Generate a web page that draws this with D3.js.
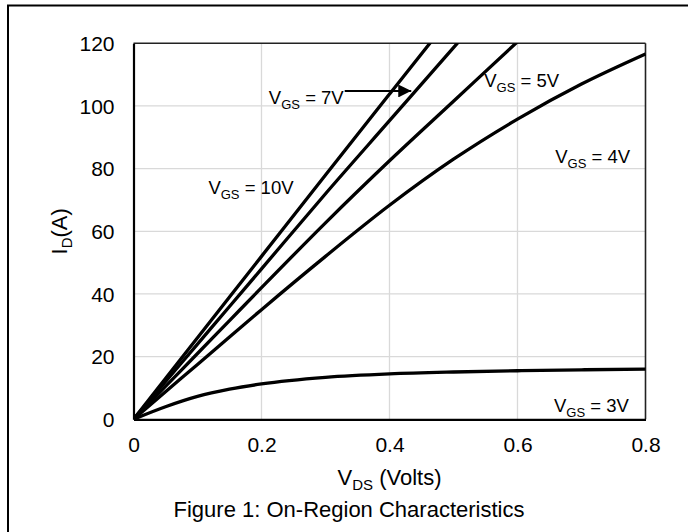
<!DOCTYPE html>
<html>
<head>
<meta charset="utf-8">
<script src="https://cdn.jsdelivr.net/npm/d3@7"></script>
<style>
  html, body { margin: 0; padding: 0; background: #fff; }
  svg { display: block; font-family: "Liberation Sans", Arial, sans-serif; }
</style>
</head>
<body>
<svg id="chart" width="698" height="532"></svg>
<script>
// ---- data ----
const vds = [0, 0.05, 0.1, 0.15, 0.2, 0.3, 0.4, 0.5, 0.6, 0.7, 0.8];
const id10 = [0, 13, 26, 39, 52, 78, 103.8, 129.5, 155, 181, 207];
const id7  = [0, 12, 24, 36, 48, 72, 95.3, 118.6, 142, 165, 188];
const id5  = [0, 10.5, 21, 31.5, 42, 62.7, 82.5, 101.5, 120.5, 139, 157];
const id4  = [0, 8.8, 17.5, 26.3, 35, 52, 68.3, 83, 95.8, 107, 116.6];
const id3  = [0, 4, 7.3, 9.6, 11.3, 13.4, 14.5, 15.1, 15.5, 15.8, 16.0];
const seriesNames = ["10V", "7V", "5V", "4V", "3V"];
const seriesValues = [id10, id7, id5, id4, id3];
const xTicks = [0, 0.2, 0.4, 0.6, 0.8];
const yTicks = [0, 20, 40, 60, 80, 100, 120];
const xTitle = ["V", "DS", " (Volts)"];
const yTitle = ["I", "D", "(A)"];
const caption = "Figure 1: On-Region Characteristics";
const curveLabels = [
  {name: "10V", x: 0.117, y: 71.9},
  {name: "7V",  x: 0.2115, y: 100.6},
  {name: "5V",  x: 0.548, y: 106},
  {name: "4V",  x: 0.659, y: 81.7},
  {name: "3V",  x: 0.657, y: 2.4}
];
const arrowFrom = [0.330, 104.8];
const arrowTo = [0.434, 104.8];

// ---- layout ----
const svg = d3.select("#chart");
const m = {left: 133.5, right: 645.5, top: 43.3, bottom: 419.3};
const x = d3.scaleLinear().domain([0, 0.8]).range([m.left, m.right]);
const y = d3.scaleLinear().domain([0, 120]).range([m.bottom, m.top]);

// outer frame (top + left)
svg.append("line").attr("x1", 7).attr("x2", 688).attr("y1", 5.5).attr("y2", 5.5)
  .attr("stroke", "#000").attr("stroke-width", 2);
svg.append("line").attr("x1", 8).attr("x2", 8).attr("y1", 5).attr("y2", 532)
  .attr("stroke", "#000").attr("stroke-width", 2);

// gridlines
svg.append("g").selectAll("line").data(xTicks.slice(1, -1)).join("line")
  .attr("x1", d => x(d)).attr("x2", d => x(d)).attr("y1", m.top).attr("y2", m.bottom)
  .attr("stroke", "#d9d9d9").attr("stroke-width", 1.3);
svg.append("g").selectAll("line").data(yTicks.slice(1, -1)).join("line")
  .attr("x1", m.left).attr("x2", m.right).attr("y1", d => y(d)).attr("y2", d => y(d))
  .attr("stroke", "#d9d9d9").attr("stroke-width", 1.3);

// plot box top/right
svg.append("line").attr("x1", m.left).attr("x2", m.right).attr("y1", m.top).attr("y2", m.top)
  .attr("stroke", "#222").attr("stroke-width", 1.6);
svg.append("line").attr("x1", m.right).attr("x2", m.right).attr("y1", m.top).attr("y2", m.bottom)
  .attr("stroke", "#222").attr("stroke-width", 1.6);

// curves (clipped)
svg.append("clipPath").attr("id", "clip").append("rect")
  .attr("x", m.left).attr("y", m.top).attr("width", m.right - m.left + 2).attr("height", m.bottom - m.top);
const line = d3.line().x(d => x(d[0])).y(d => y(d[1])).curve(d3.curveMonotoneX);
svg.append("g").attr("clip-path", "url(#clip)").selectAll("path")
  .data(seriesValues).join("path")
  .attr("d", s => line(vds.map((v, i) => [v, s[i]])))
  .attr("fill", "none").attr("stroke", "#000").attr("stroke-width", 3.3)
  .attr("stroke-linejoin", "round");

// axes
const xAxis = svg.append("g").attr("transform", `translate(0,${m.bottom})`)
  .call(d3.axisBottom(x).tickValues(xTicks).tickSize(0).tickPadding(20).tickFormat(d => d === 0 ? "0" : d3.format(".1f")(d)));
const yAxis = svg.append("g").attr("transform", `translate(${m.left},0)`)
  .call(d3.axisLeft(y).tickValues(yTicks).tickSize(0).tickPadding(19));
[xAxis, yAxis].forEach(g => {
  g.select(".domain").attr("stroke", "#000").attr("stroke-width", 2.2);
  g.selectAll("text").attr("font-size", 21).attr("fill", "#000")
    .attr("font-family", "'Liberation Sans', Arial, sans-serif");
});
xAxis.selectAll("text").attr("dy", "0.71em").attr("y", 18);
yAxis.selectAll("text").attr("dy", "0.35em");

// axis titles
const xt = svg.append("text").attr("x", (m.left + m.right) / 2).attr("y", 485)
  .attr("text-anchor", "middle").attr("font-size", 22);
xt.append("tspan").text(xTitle[0]);
xt.append("tspan").text(xTitle[1]).attr("font-size", 15).attr("dy", 5);
xt.append("tspan").text(xTitle[2]).attr("dy", -5);

const yt = svg.append("text").attr("transform", `translate(66.5,${(m.top + m.bottom) / 2}) rotate(-90)`)
  .attr("text-anchor", "middle").attr("font-size", 22);
yt.append("tspan").text(yTitle[0]);
yt.append("tspan").text(yTitle[1]).attr("font-size", 15).attr("dy", 5);
yt.append("tspan").text(yTitle[2]).attr("dy", -5);

// caption
svg.append("text").attr("x", 349).attr("y", 517)
  .attr("text-anchor", "middle").attr("font-size", 22).text(caption);

// curve labels
curveLabels.forEach(l => {
  const t = svg.append("text").attr("x", x(l.x)).attr("y", y(l.y)).attr("font-size", 18.5);
  t.append("tspan").text("V");
  t.append("tspan").text("GS").attr("font-size", 13).attr("dy", 5);
  t.append("tspan").text(" = " + l.name).attr("dy", -5);
});

// arrow for 7V label
svg.append("defs").append("marker").attr("id", "ah")
  .attr("viewBox", "0 0 10 10").attr("refX", 10).attr("refY", 5)
  .attr("markerWidth", 6.5).attr("markerHeight", 6.5).attr("orient", "auto")
  .attr("markerUnits", "strokeWidth")
  .append("path").attr("d", "M0,0 L10,5 L0,10 Z").attr("fill", "#000");
svg.append("line").attr("x1", x(arrowFrom[0])).attr("x2", x(arrowTo[0]))
  .attr("y1", y(arrowFrom[1])).attr("y2", y(arrowTo[1]))
  .attr("stroke", "#000").attr("stroke-width", 2).attr("marker-end", "url(#ah)");
</script>
</body>
</html>
